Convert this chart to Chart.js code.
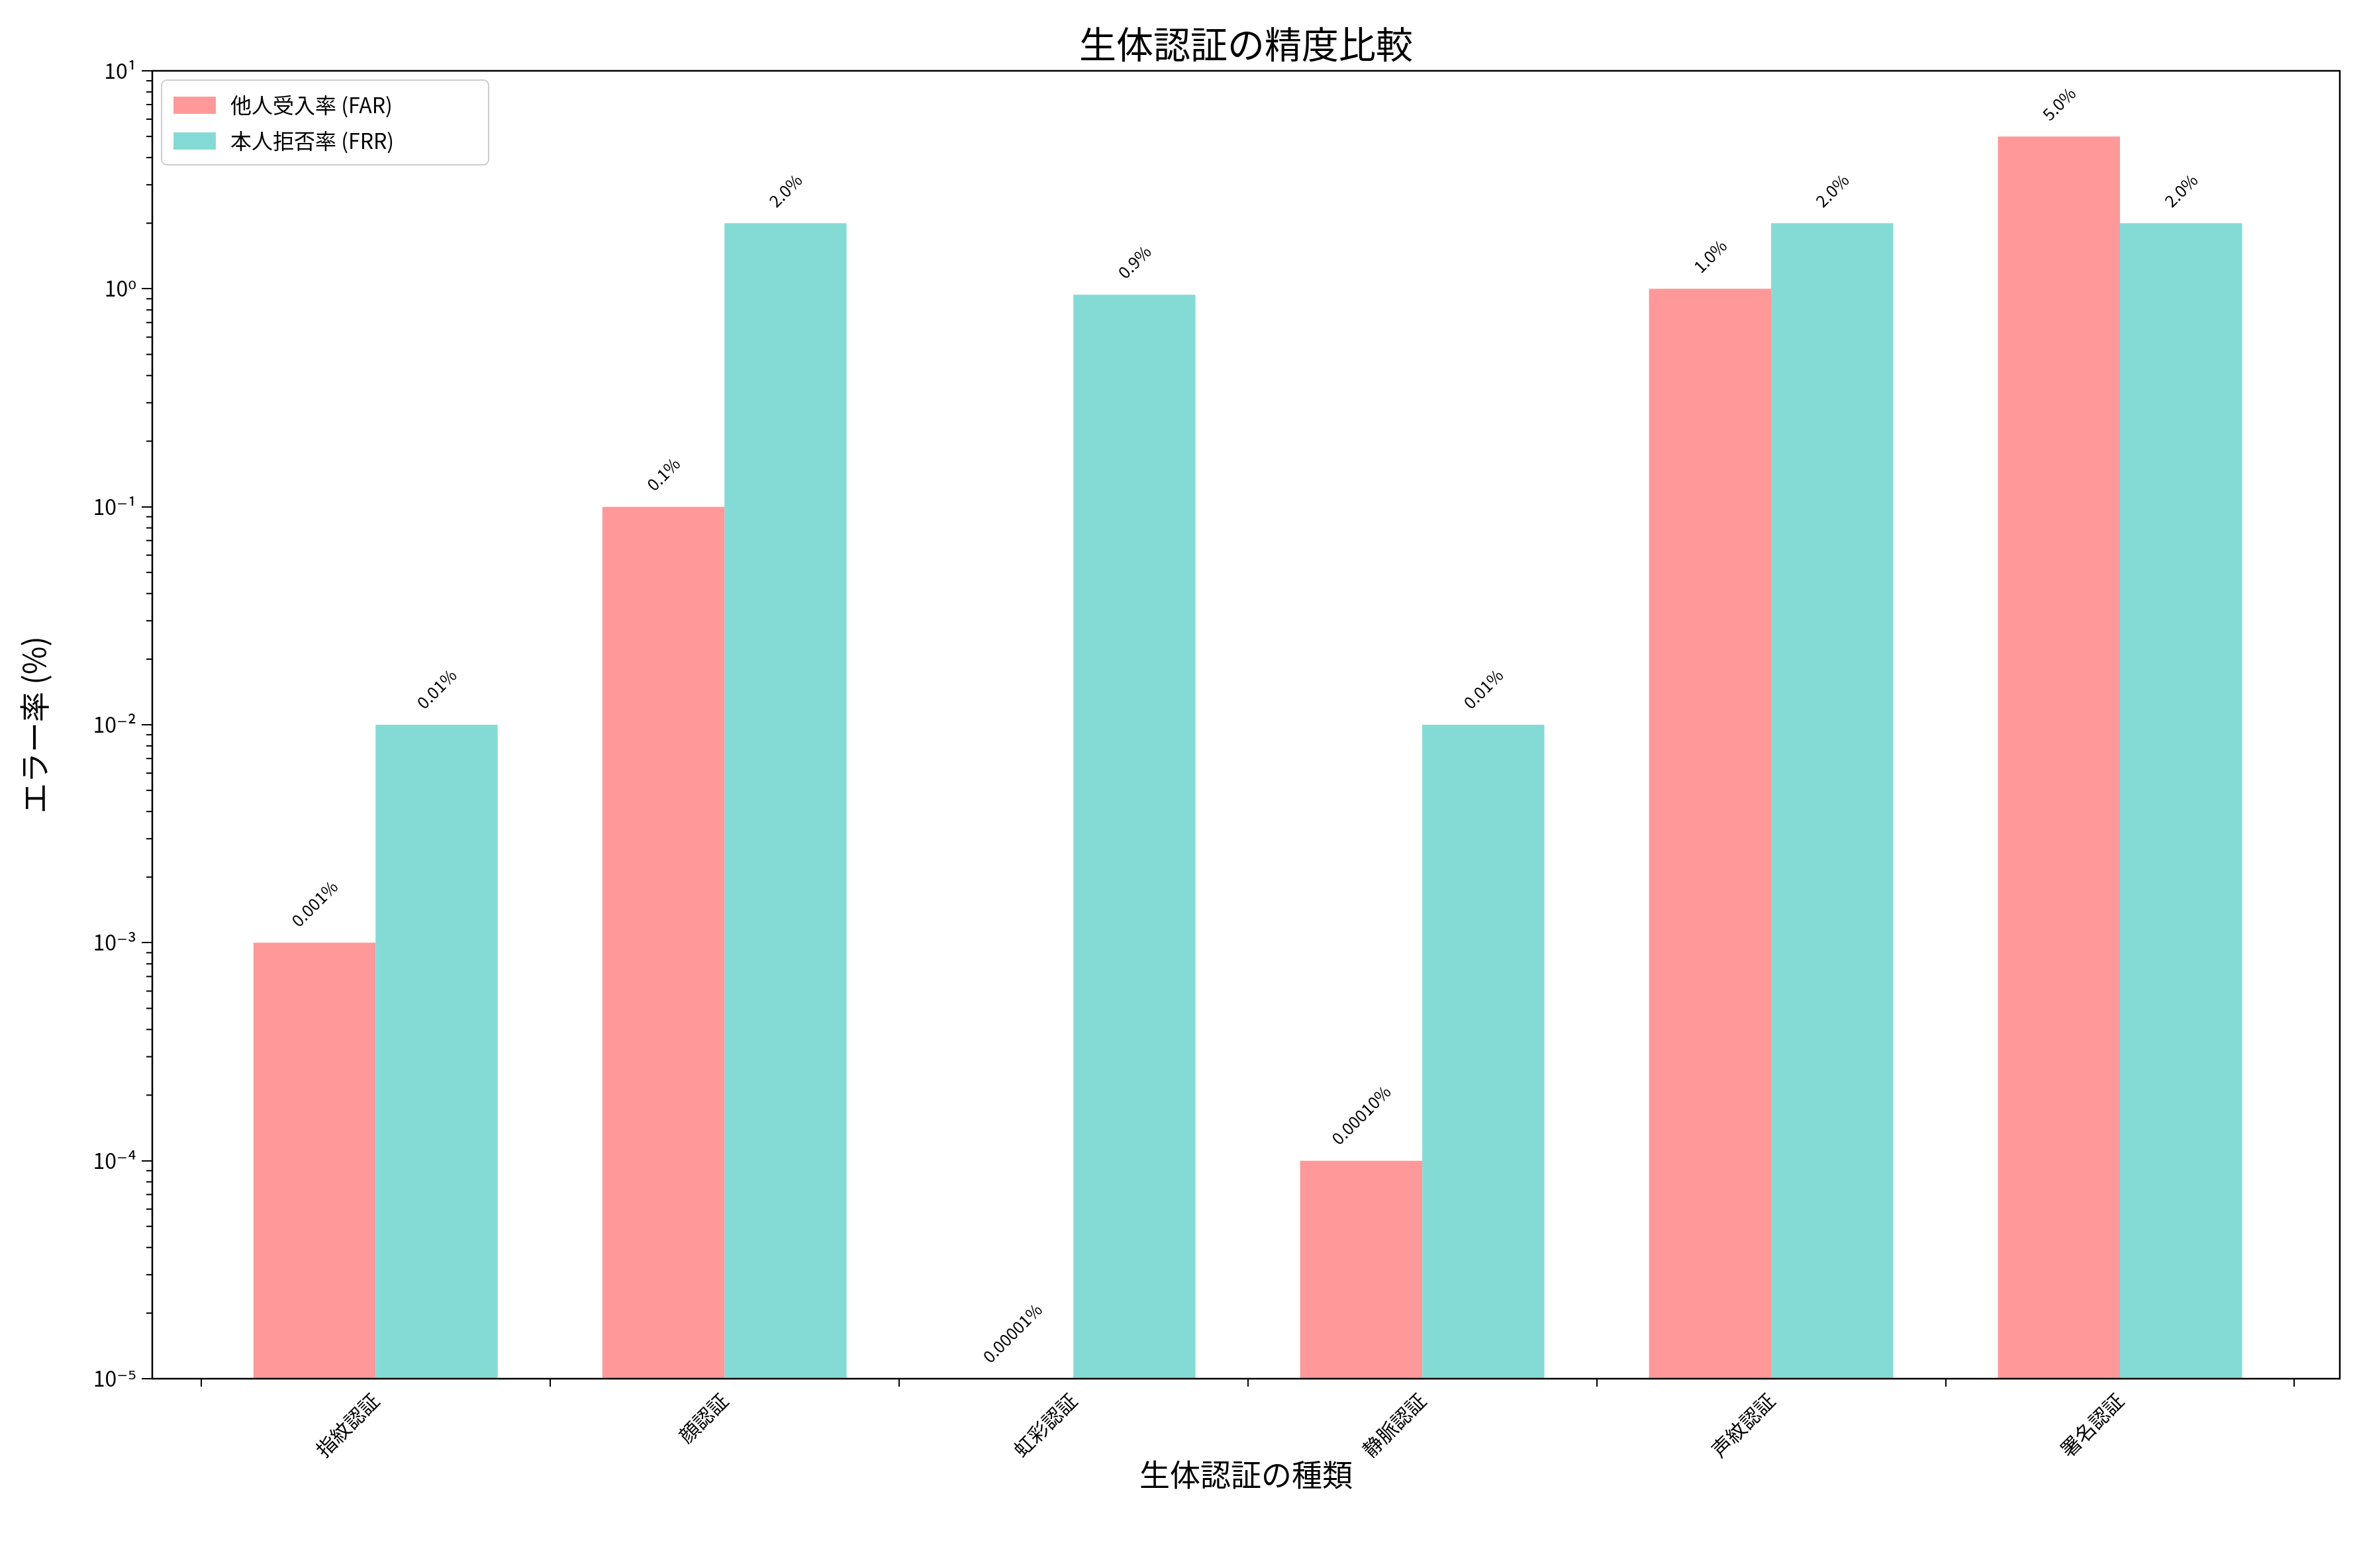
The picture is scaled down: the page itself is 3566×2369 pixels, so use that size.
<!DOCTYPE html>
<html>
<head>
<meta charset="utf-8">
<script src="https://cdn.jsdelivr.net/npm/chart.js@4/dist/chart.umd.min.js"></script>
<style>
  body { margin: 0; background: #fff; }
</style>
</head>
<body>
<canvas id="chart" width="3566" height="2369"></canvas>
<script>
// data
const categories = ['指紋認証', '顔認証', '虹彩認証', '静脈認証', '声紋認証', '署名認証'];
const farValues = [0.001, 0.1, 0.00001, 0.0001, 1.0, 5.0];
const frrValues = [0.01, 2.0, 0.94, 0.01, 2.0, 2.0];
const farLabels = ['0.001%', '0.1%', '0.00001%', '0.00010%', '1.0%', '5.0%'];
const frrLabels = ['0.01%', '2.0%', '0.9%', '0.01%', '2.0%', '2.0%'];
const yTickLabels = ['10⁻⁵', '10⁻⁴', '10⁻³', '10⁻²', '10⁻¹', '10⁰', '10¹'];

const FONT = '"Noto Sans CJK JP", "DejaVu Sans", sans-serif';
const farColor = '#ff9999';
const frrColor = '#84dbd5';

// text, legend, minor ticks and frame
const decorPlugin = {
    id: 'decor',
    afterDraw(chart) {
        const ctx = chart.ctx;
        const a = chart.chartArea;
        const ys = chart.scales.y;
        ctx.save();

        // minor ticks on log axis
        ctx.strokeStyle = '#000';
        ctx.lineWidth = 2;
        for (let e = -5; e < 1; e++) {
            for (let m = 2; m <= 9; m++) {
                const py = ys.getPixelForValue(m * Math.pow(10, e));
                ctx.beginPath();
                ctx.moveTo(a.left, py);
                ctx.lineTo(a.left - 9, py);
                ctx.stroke();
            }
        }

        // frame
        ctx.lineWidth = 2.5;
        ctx.strokeRect(a.left, a.top, a.right - a.left, a.bottom - a.top);

        // value labels
        ctx.fillStyle = '#000';
        ctx.font = '25px ' + FONT;
        ctx.textAlign = 'center';
        ctx.textBaseline = 'middle';
        const labelSets = [farLabels, frrLabels];
        chart.data.datasets.forEach((ds, di) => {
            chart.getDatasetMeta(di).data.forEach((bar, i) => {
                const txt = labelSets[di][i];
                const w = ctx.measureText(txt).width;
                const half = (w * 0.707 + 25 * 0.707) / 2;
                const top = Math.min(bar.y, a.bottom);
                ctx.save();
                ctx.translate(bar.x, top - 20 - half);
                ctx.rotate(-Math.PI / 4);
                ctx.fillText(txt, 0, 0);
                ctx.restore();
            });
        });

        // title
        ctx.font = '56px ' + FONT;
        ctx.textBaseline = 'bottom';
        ctx.fillText('生体認証の精度比較', (a.left + a.right) / 2, a.top - 12);

        // axis titles
        ctx.font = '46px ' + FONT;
        ctx.textBaseline = 'top';
        ctx.fillText('生体認証の種類', (a.left + a.right) / 2, 2205);
        ctx.save();
        ctx.translate(52, (a.top + a.bottom) / 2);
        ctx.rotate(-Math.PI / 2);
        ctx.textBaseline = 'middle';
        ctx.fillText('エラー率 (%)', 0, 0);
        ctx.restore();

        // legend
        const lx = a.left + 14, ly = a.top + 14;
        ctx.fillStyle = '#fff';
        ctx.strokeStyle = '#cccccc';
        ctx.lineWidth = 2;
        ctx.beginPath();
        ctx.roundRect(lx, ly, 494, 128, 8);
        ctx.fill();
        ctx.stroke();
        ctx.font = '32px ' + FONT;
        ctx.textAlign = 'left';
        ctx.textBaseline = 'middle';
        [['他人受入率 (FAR)', farColor], ['本人拒否率 (FRR)', frrColor]].forEach(([t, c], k) => {
            const cy = ly + 38 + k * 54;
            ctx.fillStyle = c;
            ctx.fillRect(lx + 18, cy - 13, 64, 26);
            ctx.fillStyle = '#000';
            ctx.fillText(t, lx + 104, cy);
        });

        ctx.restore();
    }
};

const ctx = document.getElementById('chart').getContext('2d');
new Chart(ctx, {
    type: 'bar',
    data: {
        datasets: [{
            label: '他人受入率 (FAR)',
            data: farValues.map((v, i) => ({ x: i, y: v })),
            backgroundColor: farColor,
            borderWidth: 0
        }, {
            label: '本人拒否率 (FRR)',
            data: frrValues.map((v, i) => ({ x: i, y: v })),
            backgroundColor: frrColor,
            borderWidth: 0
        }]
    },
    options: {
        responsive: false,
        animation: false,
        devicePixelRatio: 1,
        layout: { padding: { top: 107, right: 32, left: 0, bottom: 0 } },
        datasets: { bar: { categoryPercentage: 0.7, barPercentage: 1.0 } },
        plugins: { legend: { display: false }, title: { display: false }, tooltip: { enabled: false } },
        scales: {
            x: {
                type: 'linear',
                offset: false,
                min: -0.64,
                max: 5.63,
                afterBuildTicks: s => { s.ticks = categories.map((_, i) => ({ value: i })); },
                afterFit: s => { s.height = 286; },
                grid: { display: true, drawOnChartArea: false, color: '#000', tickLength: 12, lineWidth: 2 },
                border: { display: false },
                ticks: {
                    minRotation: 45, maxRotation: 45, autoSkip: false,
                    color: '#000', font: { family: FONT, size: 30 },
                    callback: v => categories[v]
                }
            },
            y: {
                type: 'logarithmic',
                min: 0.00001,
                max: 10,
                afterBuildTicks: s => { s.ticks = yTickLabels.map((_, i) => ({ value: Math.pow(10, i - 5) })); },
                afterFit: s => { s.width = 230; },
                grid: { display: true, drawOnChartArea: false, color: '#000', tickLength: 16, lineWidth: 2 },
                border: { display: false },
                ticks: {
                    color: '#000', font: { family: FONT, size: 32 }, padding: 8,
                    callback: (v) => yTickLabels[Math.round(Math.log10(v)) + 5]
                }
            }
        }
    },
    plugins: [decorPlugin]
});
</script>
</body>
</html>
